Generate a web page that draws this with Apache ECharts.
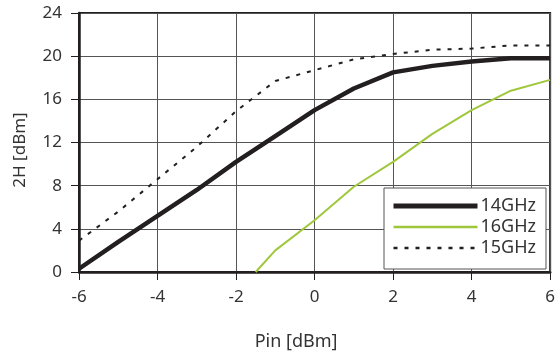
<!DOCTYPE html>
<html>
<head>
<meta charset="utf-8">
<script src="https://cdn.jsdelivr.net/npm/echarts@6/dist/echarts.min.js"></script>
<style>
  html, body { margin: 0; padding: 0; background: #fff; }
  #chart { width: 558px; height: 356px; }
</style>
</head>
<body>
<div id="chart"></div>
<script>
// x values (Pin, dBm)
const pinX = [-6, -5, -4, -3, -2, -1, 0, 1, 2, 3, 4, 5, 6];
const pin16 = [-1.5, -1, 0, 1, 2, 3, 4, 5, 6];
// 2H output (dBm)
const h14 = [0.3, 2.8, 5.2, 7.6, 10.2, 12.6, 15.0, 17.0, 18.5, 19.1, 19.5, 19.8, 19.8];
const h16 = [0, 2.0, 4.8, 7.9, 10.2, 12.8, 15.0, 16.8, 17.8];
const h15 = [2.9, 5.6, 8.6, 11.6, 14.9, 17.7, 18.7, 19.7, 20.2, 20.6, 20.7, 21.0, 21.0];
const seriesNames = ['14GHz', '16GHz', '15GHz'];

const font = 'Noto Sans';
const pairs = (xs, ys) => xs.map((x, i) => [x, ys[i]]);

let chart = echarts.init(document.getElementById('chart'));
chart.setOption({
  animation: false,
  textStyle: { fontFamily: font },
  grid: {
    left: 79, right: 3, top: 13, bottom: 84,
    show: true, borderColor: '#231f20', borderWidth: 2
  },
  legend: {
    orient: 'vertical',
    left: 384, top: 188,
    width: 166,
    padding: [9, 10, 12, 7],
    backgroundColor: '#fff',
    borderColor: '#555',
    borderWidth: 1,
    borderRadius: 0,
    itemWidth: 84,
    itemHeight: 14,
    itemGap: 3,
    // line series always draw a marker in the legend, hide it
    itemStyle: { opacity: 0 },
    textStyle: { fontSize: 18, color: '#333', fontFamily: font, padding: [0, 0, 0, -2] },
    data: [
      { name: '14GHz', lineStyle: { width: 5 } },
      { name: '16GHz', lineStyle: { width: 2.5 } },
      { name: '15GHz', lineStyle: { width: 2.5 } }
    ]
  },
  xAxis: {
    type: 'value',
    min: -6, max: 6, interval: 2,
    name: 'Pin [dBm]',
    nameLocation: 'middle',
    nameGap: 61,
    nameTextStyle: { fontSize: 18, color: '#333', padding: [0, 37, 0, 0] },
    axisLine: { onZero: false, lineStyle: { color: '#231f20', width: 2.5 } },
    axisTick: { show: true, length: 8, lineStyle: { color: '#231f20', width: 1 } },
    axisLabel: { fontSize: 17, color: '#333', margin: 17 },
    splitLine: { lineStyle: { color: '#555', width: 1 } }
  },
  yAxis: {
    type: 'value',
    min: 0, max: 24, interval: 4,
    name: '2H [dBm]',
    nameLocation: 'middle',
    nameGap: 50,
    nameTextStyle: { fontSize: 17, color: '#333', padding: [0, 15, 0, 0] },
    axisLine: { show: true, onZero: false, lineStyle: { color: '#231f20', width: 2.5 } },
    axisTick: { show: true, length: 8, lineStyle: { color: '#231f20', width: 1 } },
    axisLabel: { fontSize: 17, color: '#333', margin: 17 },
    splitLine: { lineStyle: { color: '#555', width: 1 } }
  },
  series: [
    {
      name: seriesNames[0], type: 'line', symbol: 'none', z: 3,
      lineStyle: { color: '#231f20', width: 4.5 },
      itemStyle: { color: '#231f20' },
      data: pairs(pinX, h14)
    },
    {
      name: seriesNames[1], type: 'line', symbol: 'none', z: 2,
      lineStyle: { color: '#9fc73c', width: 2 },
      itemStyle: { color: '#9fc73c' },
      data: pairs(pin16, h16)
    },
    {
      name: seriesNames[2], type: 'line', symbol: 'none', z: 2,
      lineStyle: { color: '#231f20', width: 2, type: [4, 7] },
      itemStyle: { color: '#231f20' },
      data: pairs(pinX, h15)
    }
  ]
});
</script>
</body>
</html>
